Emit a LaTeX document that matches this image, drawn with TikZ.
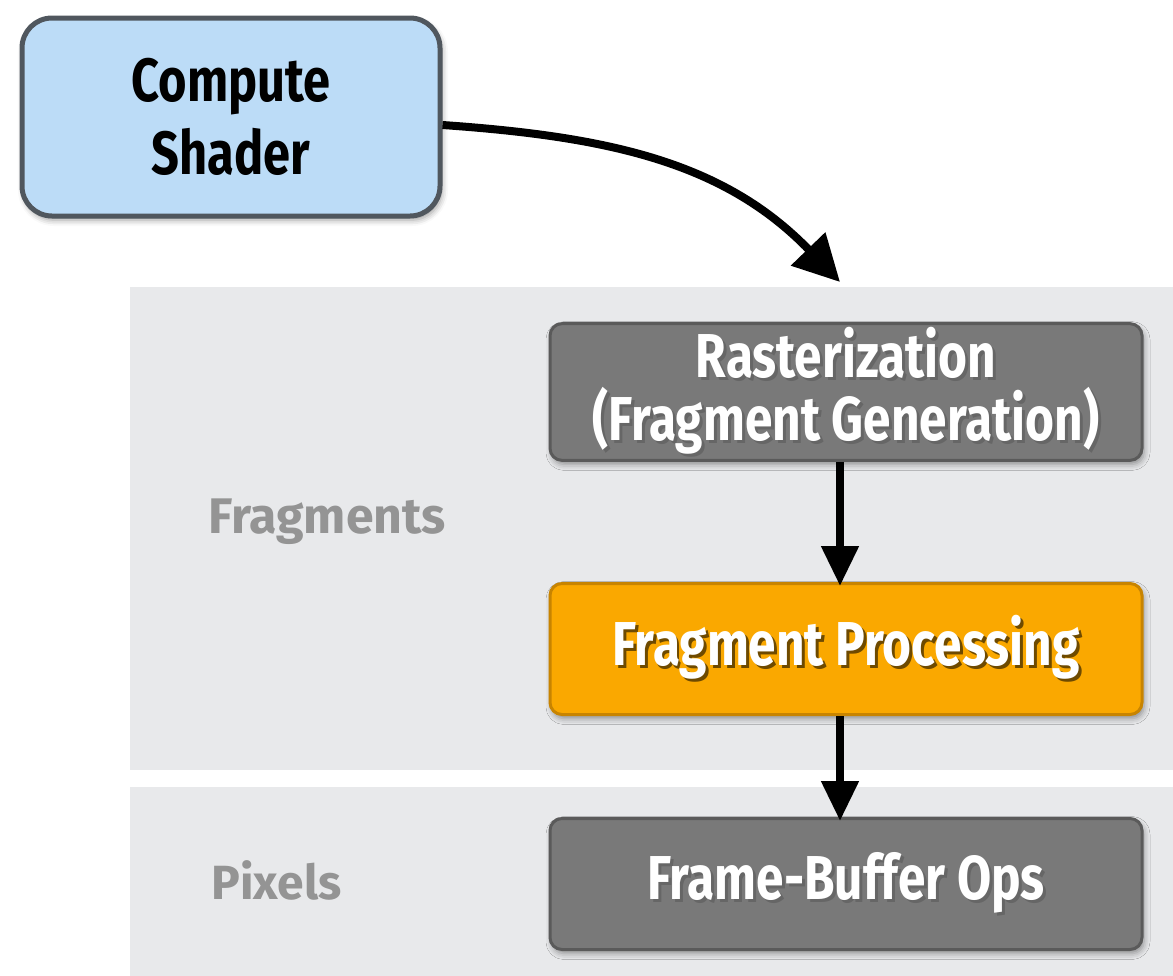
\documentclass[tikz,border=0pt]{standalone}
\usepackage{fontspec}
\setmainfont{Fira Sans}
\newfontfamily\condfont{Fira Sans}[FakeStretch=0.80]
\usetikzlibrary{arrows.meta,shadows.blur,positioning,calc}

\definecolor{csblue}{HTML}{BCDCF7}
\definecolor{csedge}{HTML}{50575E}
\definecolor{stagegray}{HTML}{797979}
\definecolor{stageedge}{HTML}{5A5A5A}
\definecolor{fporange}{HTML}{FAA800}
\definecolor{fpedge}{HTML}{C88400}
\definecolor{panelgray}{HTML}{E8E9EB}
\definecolor{taggray}{HTML}{949494}

% white label with a dark offset copy behind it
\newcommand\shtxt[2][black!60]{\rlap{\kern3pt\raisebox{-3pt}{\textcolor{#1}{#2}}}#2}

\begin{document}
\begin{tikzpicture}[x=1pt,y=-1pt,
    stage/.style={draw=stageedge, fill=stagegray, line width=3pt, rounded corners=12pt,
      minimum width=592pt, minimum height=131pt, text=white, align=center,
      font=\condfont\bfseries\fontsize{62}{63}\selectfont,
      blur shadow={shadow xshift=2pt, shadow yshift=-4pt, shadow blur radius=6pt}},
    panel/.style={fill=panelgray, draw=none, anchor=north west, inner sep=0pt},
    tag/.style={anchor=west, text=taggray, font=\bfseries\fontsize{50}{54}\selectfont},
    flow/.style={line width=8pt, -{Triangle[length=40pt,width=36pt]}}]

  \useasboundingbox (0,0) rectangle (1173,975);

  % background bands
  \node[panel, minimum width=1043pt, minimum height=483pt] (frag) at (130,287) {};
  \node[panel, minimum width=1043pt, minimum height=190pt] (pix) at (130,787) {};
  \node[tag] (fraglabel) at (205,522) {Fragments};
  \node[tag, font=\bfseries\fontsize{48}{52}\selectfont] (pixlabel) at (208,880) {Pixels};

  % compute shader
  \node[stage, fill=csblue, draw=csedge, line width=5pt, rounded corners=30pt, text=black,
        minimum width=418pt, minimum height=198pt,
        font=\condfont\bfseries\fontsize{61}{73}\selectfont] (cs) at (231,117) {Compute\\Shader};

  % pipeline stages
  \node[stage] (rast) at (846,392) {\shtxt{Rasterization}\\\shtxt{(Fragment Generation)}};
  \node[stage, fill=fporange, draw=fpedge] (fp) at (846,649) {\shtxt[black!45!fporange!80!black]{Fragment Processing}};
  \node[stage] (fb) at (846,884) {\shtxt{Frame-Buffer Ops}};

  \coordinate (entry) at (840,282);
  \draw[line width=8pt, -{Triangle[length=46pt,width=46pt]}] ([yshift=-8pt]cs.east) to[out=-4,in=134] (entry);

  \draw[flow] ([xshift=-6pt]rast.south) -- ([xshift=-6pt,yshift=-4pt]fp.north);
  \draw[flow] ([xshift=-6pt]fp.south) -- ([xshift=-6pt,yshift=-4pt]fb.north);
\end{tikzpicture}
\end{document}
